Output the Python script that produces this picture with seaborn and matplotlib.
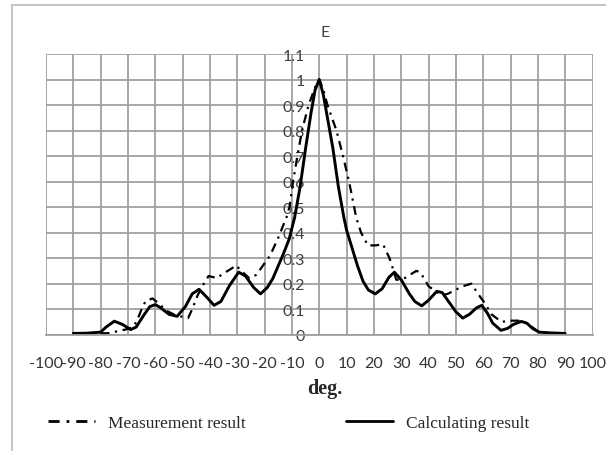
import numpy as np
import pandas as pd
import matplotlib
matplotlib.use('Agg')
import matplotlib.pyplot as plt
import seaborn as sns
from matplotlib.lines import Line2D
from matplotlib.ticker import FuncFormatter

# valores (graus, E normalizado)
calc_deg = [-90, -85, -80, -78, -75, -72, -69, -67, -64, -62, -60, -58, -55, -52,
            -49, -46.5, -44, -41, -38.5, -36, -33, -29.5, -27, -24, -21.5, -19, -17,
            -15, -13, -11, -9, -7, -5, -3, -1.5, 0, 1.5, 3, 5, 7, 9, 10, 12, 14, 16,
            18, 20.5, 23, 25.5, 27.5, 30, 33, 35, 37.5, 40, 43, 45, 48, 50, 52.5, 55,
            57.5, 59.5, 61.5, 63.5, 66.5, 69, 71, 74, 76, 78, 80.5, 85, 90]
calc_e = [0.005, 0.006, 0.01, 0.03, 0.053, 0.04, 0.02, 0.03, 0.08, 0.11, 0.118, 0.105,
          0.08, 0.072, 0.11, 0.16, 0.178, 0.145, 0.115, 0.13, 0.19, 0.245, 0.23, 0.185,
          0.16, 0.185, 0.22, 0.27, 0.32, 0.375, 0.46, 0.58, 0.73, 0.87, 0.96, 1.0, 0.94,
          0.85, 0.73, 0.58, 0.46, 0.41, 0.34, 0.27, 0.21, 0.175, 0.16, 0.18, 0.225, 0.245,
          0.215, 0.16, 0.13, 0.113, 0.135, 0.17, 0.165, 0.12, 0.09, 0.065, 0.08, 0.105,
          0.115, 0.085, 0.045, 0.017, 0.025, 0.04, 0.052, 0.045, 0.025, 0.01, 0.007, 0.005]

meas_deg = [-80, -77, -74.5, -71, -68, -66.5, -65, -63.5, -61, -58.5, -56, -53, -50, -48,
            -46.5, -44.5, -42.5, -40.5, -37.5, -35, -32, -30.5, -28, -25.5, -23, -21, -18,
            -15, -12, -10.9, -9.6, -8, -6.3, -3.9, -1.5, 0, 1.5, 3, 6.3, 8.7, 10.9, 12.6,
            13.5, 15.3, 17.8, 20.8, 23.3, 25.7, 27, 28.2, 31, 35.5, 37, 40, 42.8, 45, 47,
            52.5, 55.7, 58.1, 60.5, 63, 66.7, 69.7, 72.8, 76, 78.9, 80]
meas_e = [0.005, 0.006, 0.012, 0.02, 0.03, 0.06, 0.1, 0.133, 0.142, 0.12, 0.095, 0.078,
          0.07, 0.065, 0.1, 0.155, 0.195, 0.23, 0.222, 0.24, 0.26, 0.272, 0.245, 0.22,
          0.235, 0.265, 0.31, 0.38, 0.46, 0.5, 0.6, 0.7, 0.8, 0.9, 0.97, 1.0, 0.96, 0.9,
          0.8, 0.7, 0.6, 0.51, 0.46, 0.4, 0.35, 0.35, 0.355, 0.3, 0.257, 0.215, 0.22,
          0.25, 0.245, 0.19, 0.168, 0.155, 0.16, 0.19, 0.2, 0.16, 0.125, 0.08, 0.05,
          0.055, 0.055, 0.045, 0.022, 0.012]

x_ticks = list(range(-100, 101, 10))
y_ticks = [round(0.1 * i, 1) for i in range(12)]

df_calc = pd.DataFrame({'deg': calc_deg, 'E': calc_e})
df_meas = pd.DataFrame({'deg': meas_deg, 'E': meas_e})

sns.set_style('white')
plt.rcParams['font.family'] = ['Lato', 'DejaVu Sans']
plt.rcParams['axes.unicode_minus'] = False

W, H = 606, 452
fig = plt.figure(figsize=(W / 100, H / 100), dpi=100)
ax = fig.add_axes([46 / W, 1 - 335.7 / H, (592.5 - 46) / W, (335.7 - 55) / H])

dashdot = (0, (4, 2.5, 1, 2.5))
sns.lineplot(data=df_meas, x='deg', y='E', ax=ax, color='black', lw=1.6,
             linestyle=dashdot, estimator=None, sort=False)
sns.lineplot(data=df_calc, x='deg', y='E', ax=ax, color='black', lw=2.1,
             estimator=None, sort=False)

ax.set_xlim(-100, 100)
ax.set_ylim(0, 1.1)
ax.set_xticks(x_ticks)
ax.set_yticks(y_ticks)
ax.yaxis.set_major_formatter(FuncFormatter(lambda v, p: f'{v:g}'))
ax.grid(True, color='#a0a0a0', lw=1.3)
ax.set_axisbelow(True)

# eixo y cruza em x = 0
ax.spines['left'].set_position(('data', 0))
ax.spines['left'].set_visible(False)
ax.spines['right'].set_visible(False)
ax.spines['top'].set_visible(False)
ax.spines['bottom'].set_color('#a0a0a0')
ax.spines['bottom'].set_linewidth(1.3)
ax.tick_params(axis='y', length=0, pad=10, labelsize=11.5, labelcolor='#404040')
ax.tick_params(axis='x', length=4, width=1.2, color='#a0a0a0', direction='out',
               pad=11, labelsize=11.5, labelcolor='#333333')
for lab in ax.get_yticklabels():
    lab.set_zorder(5)

ax.set_xlabel('')
ax.set_ylabel('')
fig.text(325 / W, 1 - 389 / H, 'deg.', ha='center', va='center',
         fontfamily='Liberation Serif', fontweight='bold', fontsize=14.5)
fig.text(325 / W, 1 - 33 / H, 'E', ha='center', va='center', fontsize=11.5, color='#404040')

handles = [Line2D([], [], color='black', lw=2, linestyle=dashdot),
           Line2D([], [], color='black', lw=2)]
fig.legend(handles, ['Measurement result', 'Calculating result'], ncol=2,
           loc='center left', bbox_to_anchor=(48 / W, 1 - 424 / H), frameon=False,
           prop={'family': 'Liberation Serif', 'size': 12.5}, borderpad=0,
           borderaxespad=0, handlelength=2.7, handletextpad=0.75, columnspacing=5.8)

# moldura da área do gráfico
fig.add_artist(Line2D([11.5 / W, 11.5 / W], [0, 1 - 6 / H], color='#c0c0c0', lw=1.3))
fig.add_artist(Line2D([11.5 / W, 1], [1 - 6 / H, 1 - 6 / H], color='#c0c0c0', lw=1.3))

fig.savefig('out.png', dpi=100)
